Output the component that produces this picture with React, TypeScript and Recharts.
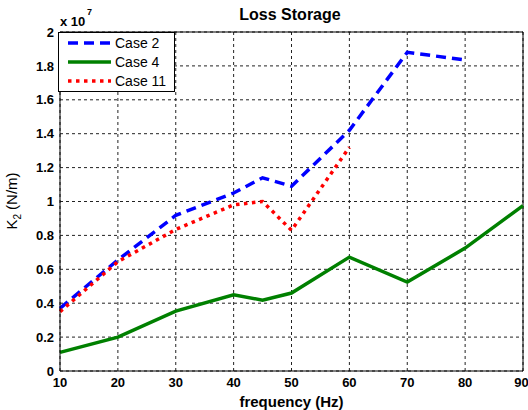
import React from 'react';
import {
  LineChart,
  Line,
  XAxis,
  YAxis,
  CartesianGrid,
  ReferenceLine,
  Legend,
} from 'recharts';

// Frequency points (Hz) and stiffness K2 in units of 1e7 N/m
const frequency = [10, 20, 30, 40, 45, 50, 60, 70, 80, 90];
const case2 = [0.37, 0.655, 0.918, 1.05, 1.14, 1.09, 1.42, 1.88, 1.835, null];
const case4 = [0.11, 0.2, 0.353, 0.45, 0.418, 0.46, 0.672, 0.525, 0.725, 0.976];
const case11 = [0.35, 0.645, 0.835, 0.98, 1.0, 0.83, 1.32, null, null, null];

const xTicks = [10, 20, 30, 40, 50, 60, 70, 80, 90];
const yTicks = [0, 0.2, 0.4, 0.6, 0.8, 1, 1.2, 1.4, 1.6, 1.8, 2];
const yTickLabels = ['0', '0.2', '0.4', '0.6', '0.8', '1', '1.2', '1.4', '1.6', '1.8', '2'];

const data = frequency.map((f, i) => ({
  f,
  case2: case2[i],
  case4: case4[i],
  case11: case11[i],
}));

const FONT = '"Liberation Sans", Arial, sans-serif';

const series = [
  { key: 'case2', name: 'Case 2', color: '#0000ff', dash: '10 6' },
  { key: 'case4', name: 'Case 4', color: '#008000', dash: undefined },
  { key: 'case11', name: 'Case 11', color: '#ff0000', dash: '3.5 4.5' },
];

function LegendBox() {
  return (
    <svg width={117} height={60} style={{ display: 'block' }}>
      <rect x={0.5} y={0.5} width={116} height={59} fill="#fff" stroke="#000" />
      {series.map((s, i) => (
        <g key={s.key}>
          <line
            x1={10}
            x2={53}
            y1={11 + i * 19}
            y2={11 + i * 19}
            stroke={s.color}
            strokeWidth={3.5}
            strokeDasharray={s.dash}
          />
          <text x={57} y={16 + i * 19} fontSize={14} fontFamily={FONT} fill="#000">
            {s.name}
          </text>
        </g>
      ))}
    </svg>
  );
}

function YLabel() {
  return (
    <text
      transform="rotate(-90, 17, 201)"
      x={17}
      y={201}
      textAnchor="middle"
      fontSize={15}
      fontFamily={FONT}
      fill="#000"
    >
      K<tspan dy={4} fontSize={10}>2</tspan>
      <tspan dy={-4}> (N/m)</tspan>
    </text>
  );
}

export default function App() {
  return (
    <div style={{ position: 'absolute', left: 0, top: 0, width: 528, height: 410, background: '#fff' }}>
      <LineChart
        width={528}
        height={410}
        data={data}
        margin={{ top: 32, right: 5, bottom: 0, left: 0 }}
      >
        <CartesianGrid stroke="#222" strokeDasharray="3 3" />
        <XAxis
          dataKey="f"
          type="number"
          domain={[10, 90]}
          ticks={xTicks}
          height={39}
          tickLine={false}
          tickSize={0}
          tickMargin={7}
          axisLine={{ stroke: '#000' }}
          tick={{ fill: '#000', fontSize: 13, fontWeight: 'bold', fontFamily: FONT }}
          label={{
            value: 'frequency (Hz)',
            position: 'insideBottom',
            offset: 3,
            fill: '#000',
            fontSize: 15,
            fontWeight: 'bold',
            fontFamily: FONT,
          }}
        />
        <YAxis
          type="number"
          domain={[0, 2]}
          ticks={yTicks}
          width={60}
          tickLine={false}
          tickSize={0}
          tickMargin={6}
          axisLine={{ stroke: '#000' }}
          tickFormatter={(v: number) => yTickLabels[yTicks.indexOf(v)] ?? String(v)}
          tick={{ fill: '#000', fontSize: 13, fontWeight: 'bold', fontFamily: FONT }}
          label={<YLabel />}
        />
        <ReferenceLine y={2} stroke="#000" />
        <ReferenceLine x={90} stroke="#000" />
        {series.map((s) => (
          <Line
            key={s.key}
            dataKey={s.key}
            name={s.name}
            type="linear"
            stroke={s.color}
            strokeWidth={3.5}
            strokeDasharray={s.dash}
            dot={false}
            activeDot={false}
            isAnimationActive={false}
          />
        ))}
        <Legend
          layout="vertical"
          align="center"
          verticalAlign="middle"
          content={<LegendBox />}
          wrapperStyle={{ top: 32, left: 58, right: 'auto', bottom: 'auto', width: 117, height: 60 }}
        />
      </LineChart>
      <svg
        width={528}
        height={410}
        style={{ position: 'absolute', left: 0, top: 0, pointerEvents: 'none' }}
      >
        <text x={290} y={20} textAnchor="middle" fontSize={16} fontWeight="bold" fontFamily={FONT} fill="#000">
          Loss Storage
        </text>
        <text x={60} y={26} fontSize={13} fontWeight="bold" fontFamily={FONT} fill="#000">
          x 10
        </text>
        <text x={87} y={15} fontSize={9} fontWeight="bold" fontFamily={FONT} fill="#000">
          7
        </text>
      </svg>
    </div>
  );
}
